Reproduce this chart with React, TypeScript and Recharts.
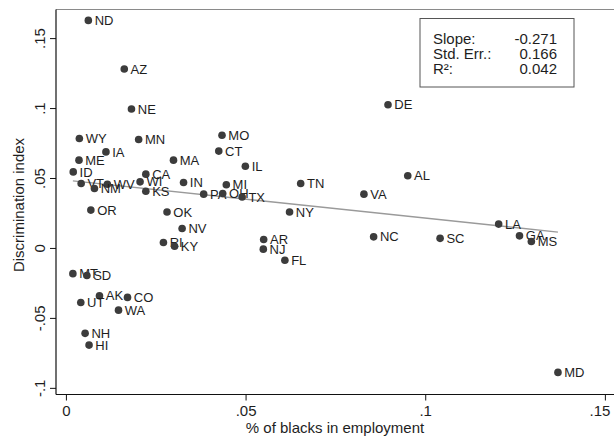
import React from 'react';
import { ScatterChart, Scatter, XAxis, YAxis, ReferenceLine } from 'recharts';

const stateLabels = ['ND','AZ','NE','WY','MN','MO','IA','CT','ME','MA','ID','CA','VT','WV','NM','WI','KS','IN','MI','PA','OH','TX','IL','TN','VA','NY','OR','OK','NV','RI','KY','AR','NJ','FL','NC','SC','LA','GA','MS','DE','AL','MD','MT','SD','AK','UT','CO','WA','NH','HI'];
const pctBlack = [0.0061,0.0161,0.0181,0.0036,0.0201,0.0433,0.0110,0.0424,0.0035,0.0298,0.0019,0.0221,0.0041,0.0114,0.0078,0.0205,0.0221,0.0326,0.0445,0.0382,0.0435,0.0489,0.0498,0.0652,0.0828,0.0621,0.0068,0.0280,0.0322,0.0270,0.0301,0.0549,0.0548,0.0608,0.0855,0.1040,0.1203,0.1261,0.1294,0.0895,0.0950,0.1368,0.0018,0.0057,0.0092,0.0040,0.0170,0.0145,0.0052,0.0063];
const discIndex = [0.163,0.1283,0.0997,0.0786,0.0779,0.0809,0.0690,0.0696,0.0631,0.0631,0.0547,0.0531,0.0464,0.0459,0.0429,0.0476,0.0409,0.0471,0.0455,0.0388,0.0393,0.0368,0.0588,0.0464,0.0388,0.0261,0.0274,0.0261,0.0143,0.0043,0.0016,0.0064,-0.0005,-0.0084,0.0083,0.0072,0.0174,0.0090,0.0050,0.1027,0.0520,-0.0886,-0.0180,-0.0193,-0.0339,-0.0386,-0.0350,-0.0441,-0.0607,-0.0691];

const fitX = [0.0018, 0.1368];
const fitY = [0.0483, 0.0117];

const xTicks = [0, 0.05, 0.1, 0.15];
const xTickLabels = ['0', '.05', '.1', '.15'];
const yTicks = [-0.1, -0.05, 0, 0.05, 0.1, 0.15];
const yTickLabels = ['-.1', '-.05', '0', '.05', '.1', '.15'];

const statNames = ['Slope:', 'Std. Err.:', 'R²:'];
const statValues = ['-0.271', '0.166', '0.042'];

const xDomain: [number, number] = [-0.0029, 0.1524];
const yDomain: [number, number] = [-0.1044, 0.1708];

const points = stateLabels.map((s, i) => ({ state: s, x: pctBlack[i], y: discIndex[i] }));

const FONT = '"Liberation Sans", Arial, Helvetica, sans-serif';

const Dot = (props: any) => {
  const { cx, cy, payload } = props;
  if (cx == null || cy == null) return null;
  return (
    <g>
      <circle cx={cx} cy={cy} r={3.8} fill="#3c3c3c" />
      <text x={cx + 6.3} y={cy + 4.6} fontSize={13} fontFamily={FONT} fill="#1e1e1e">
        {payload.state}
      </text>
    </g>
  );
};

const XTick = (props: any) => {
  const { x, payload } = props;
  const idx = xTicks.indexOf(payload.value);
  return (
    <text x={x} y={415.5} textAnchor="middle" fontSize={15} fontFamily={FONT} fill="#1e1e1e">
      {idx >= 0 ? xTickLabels[idx] : ''}
    </text>
  );
};

const YTick = (props: any) => {
  const { y, payload } = props;
  const idx = yTicks.indexOf(payload.value);
  return (
    <text transform={`translate(45, ${y}) rotate(-90)`} textAnchor="middle" fontSize={15} fontFamily={FONT} fill="#1e1e1e">
      {idx >= 0 ? yTickLabels[idx] : ''}
    </text>
  );
};

export default function App() {
  return (
    <div style={{ position: 'absolute', left: 0, top: 0, width: 614, height: 438, background: '#fff' }}>
      <ScatterChart width={614} height={438} margin={{ top: 9.5, right: 0, bottom: 0, left: 0 }}>
        <XAxis
          type="number"
          dataKey="x"
          domain={xDomain}
          ticks={xTicks}
          allowDataOverflow
          height={43.5}
          tickSize={6}
          tick={<XTick />}
          axisLine={{ stroke: '#111', strokeWidth: 1.2 }}
          tickLine={{ stroke: '#111', strokeWidth: 1 }}
        />
        <YAxis
          type="number"
          dataKey="y"
          domain={yDomain}
          ticks={yTicks}
          allowDataOverflow
          width={56}
          tickSize={6}
          tick={<YTick />}
          axisLine={{ stroke: '#111', strokeWidth: 1.2 }}
          tickLine={{ stroke: '#111', strokeWidth: 1 }}
        />
        <ReferenceLine y={yDomain[1]} stroke="#8a8a8a" strokeWidth={1.2} ifOverflow="visible" />
        <ReferenceLine
          segment={[{ x: fitX[0], y: fitY[0] }, { x: fitX[1], y: fitY[1] }]}
          stroke="#9a9a9a"
          strokeWidth={1.4}
          ifOverflow="visible"
        />
        <Scatter data={points} shape={<Dot />} isAnimationActive={false} />
      </ScatterChart>
      <svg width={614} height={438} style={{ position: 'absolute', left: 0, top: 0, pointerEvents: 'none' }}>
        <text transform="translate(24, 205) rotate(-90)" textAnchor="middle" fontSize={15} fontFamily={FONT} fill="#1e1e1e">
          Discrimination index
        </text>
        <text x={335} y={433} textAnchor="middle" fontSize={15} fontFamily={FONT} fill="#1e1e1e">
          % of blacks in employment
        </text>
        <rect x={420} y={18.5} width={154} height={68.5} fill="#fff" stroke="#555" strokeWidth={1} />
        {statNames.map((n, i) => (
          <text key={n} x={433} y={43.5 + i * 15.2} fontSize={15} fontFamily={FONT} fill="#1e1e1e">
            {n}
          </text>
        ))}
        {statValues.map((v, i) => (
          <text key={v} x={557} y={43.5 + i * 15.2} textAnchor="end" fontSize={15} fontFamily={FONT} fill="#1e1e1e">
            {v}
          </text>
        ))}
      </svg>
    </div>
  );
}
